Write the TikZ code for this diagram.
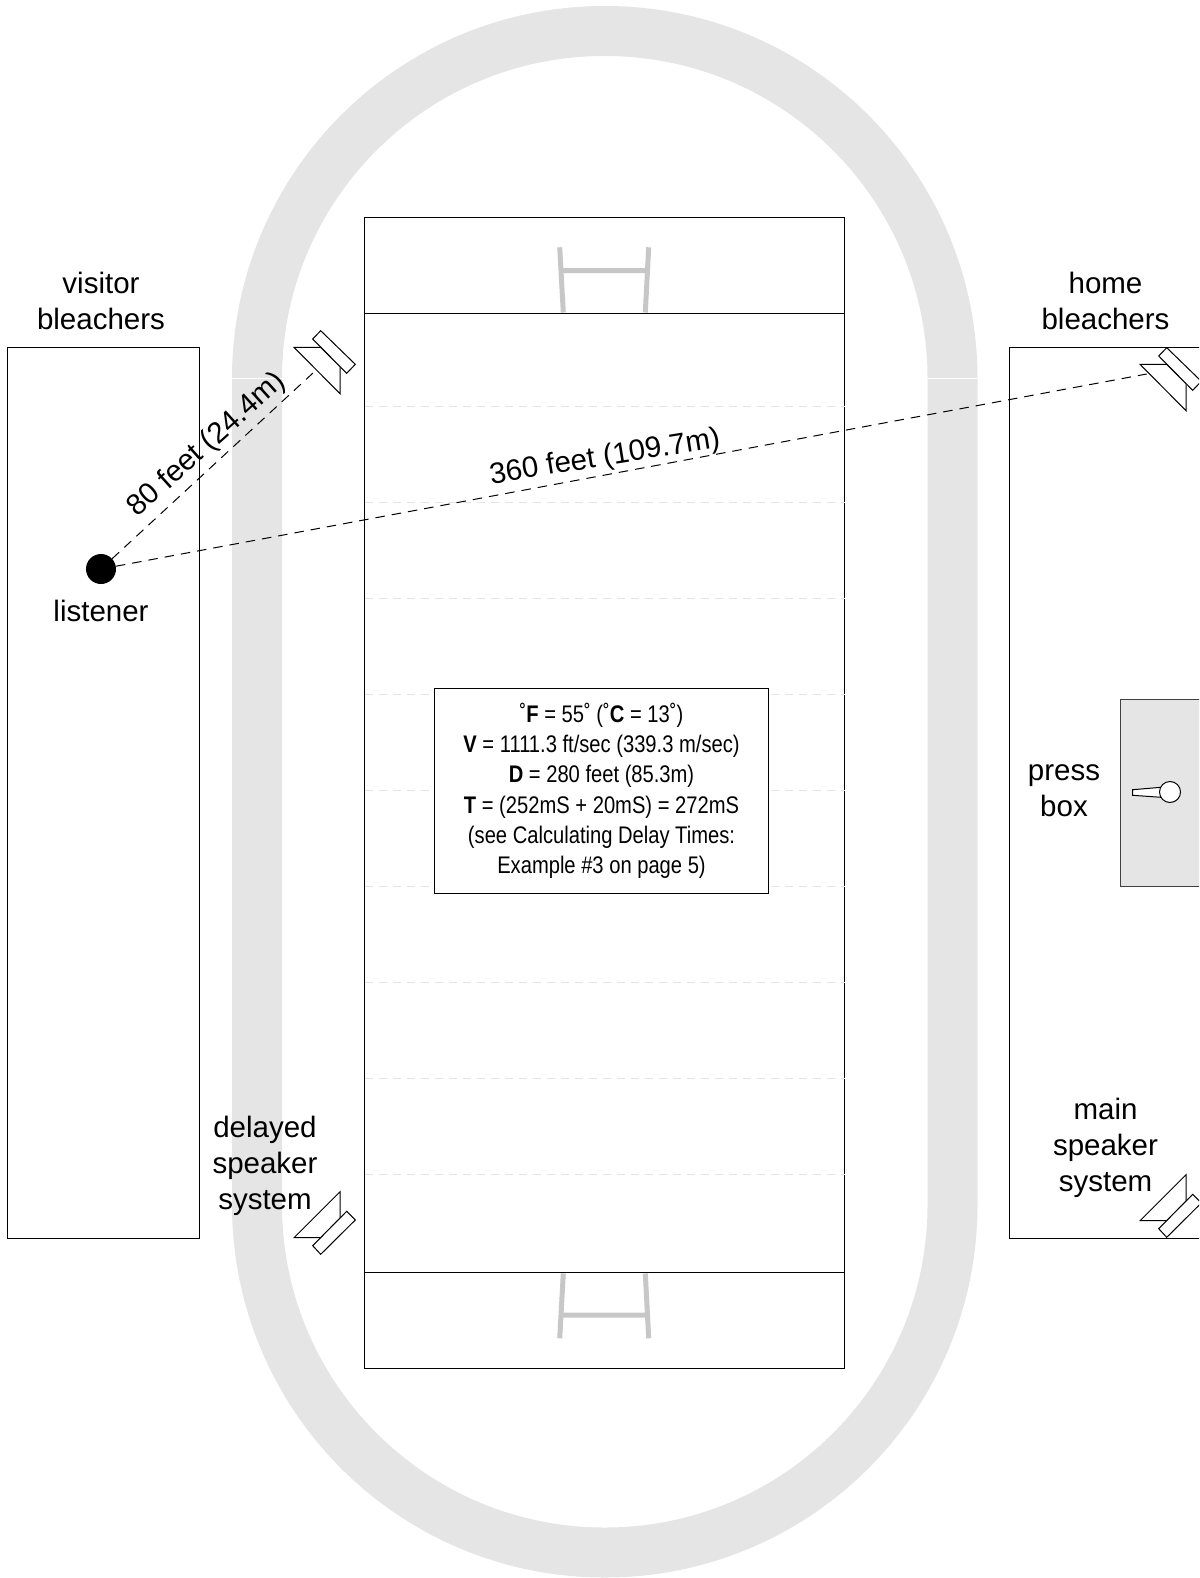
\documentclass[tikz,border=0pt]{standalone}
\usepackage{fontspec}
\setmainfont{Liberation Sans}
\newfontfamily\narrowf[FakeStretch=0.84]{Liberation Sans}
\tikzset{
  outline/.style={draw=black,line width=1pt},
  yardline/.style={draw=black!11,line width=1pt,dash pattern=on 8pt off 6pt},
  goalpost/.style={draw=black!22,line width=5pt},
  spk/.style={draw=black,line width=1pt,fill=white,line join=miter},
  sightline/.style={draw=black,line width=1pt,dash pattern=on 9.5pt off 7pt},
  lbl/.style={font=\fontsize{29.5}{36.3}\selectfont,align=center,inner sep=0pt,text=black},
}
\begin{document}
\begin{tikzpicture}[x=1pt,y=-1pt]
\useasboundingbox (0,0) rectangle (1199,1578);
\clip (0,0) rectangle (1199,1578);
% track
\draw[draw=black!10,line width=50pt,rounded corners=347.5pt] (257,31) rectangle (952.5,1552.5);
\draw[white,line width=.6pt] (232,378) -- (282,378) (928,378) -- (977,378);
% field
\draw[outline,fill=white] (364.7,217.5) rectangle (844.7,1368.5);
\draw[outline] (364.7,313.5) -- (844.7,313.5);
\draw[outline] (364.7,1272.8) -- (844.7,1272.8);
\foreach \yy in {406.7,502.7,598.6,694.6,790.5,886.5,982.4,1078.4,1174.3}
  \draw[yardline] (364.7,\yy) -- (844.7,\yy);
% goals
\draw[goalpost] (559.7,247.3) -- (563.3,312.5) (648.7,247.3) -- (645.3,312.5) (563,270.7) -- (645.6,270.7);
\draw[goalpost] (559.7,1338.3) -- (563.3,1273.5) (648.7,1338.3) -- (645.3,1273.5) (563,1315) -- (645.6,1315);
% bleachers
\draw[outline] (7.5,347.5) rectangle (199.5,1238.5);
\draw[outline] (1199.5,347.5) -- (1009.5,347.5) -- (1009.5,1238.3) -- (1199.5,1238.3);
% press box
\fill[black!10] (1120.7,699.3) rectangle (1199.5,886);
\draw[outline,draw=black!75] (1199.5,699.3) -- (1120.7,699.3) -- (1120.7,886) -- (1199.5,886);
\draw[spk] (1132.7,789.7) -- (1161,787.3) -- (1161,797.3) -- (1132.7,795.3) -- cycle;
\node[spk,circle,minimum size=21pt,inner sep=0pt] (mic) at (1170,792) {};
% listener and sight lines
\node[circle,fill=black,minimum size=30pt,inner sep=0pt] (listener) at (101,569) {};
\coordinate (delayend) at (313.3,372.7);
\coordinate (mainend) at (1146.7,374);
\draw[sightline] (listener) -- (delayend);
\draw[sightline] (listener) -- (mainend);
% speakers
\draw[spk] (294,347.3) -- (320.7,347.3) -- (340,366.7) -- (340,393.7) -- cycle;
\draw[spk] (320.7,330.7) -- (355.3,364.3) -- (346.7,373.3) -- (312.7,339) -- cycle;
\draw[spk] (294,1237.7) -- (320.7,1237.7) -- (340,1218.3) -- (340,1191.7) -- cycle;
\draw[spk] (320.7,1254.3) -- (355.3,1220) -- (346.7,1211.3) -- (312.7,1245.7) -- cycle;
\draw[spk] (1140,364.3) -- (1166.7,364.3) -- (1186,383.7) -- (1186,410.7) -- cycle;
\draw[spk] (1166.7,347.7) -- (1201.3,381.3) -- (1192.7,390.3) -- (1158.7,356) -- cycle;
\draw[spk] (1140,1220.7) -- (1166.7,1220.7) -- (1186,1201.3) -- (1186,1174.7) -- cycle;
\draw[spk] (1166.7,1237.3) -- (1201.3,1203) -- (1192.7,1194.3) -- (1158.7,1228.7) -- cycle;
% info box
\node[outline,fill=white,minimum width=334.7pt,minimum height=204.7pt,inner sep=0pt,align=center,
      font=\narrowf\fontsize{24}{30.3}\selectfont,text=black] (info) at (601.5,790.7)
 {˚\textbf{F} = 55˚ (˚\textbf{C} = 13˚)\\
  \textbf{V} = 1111.3 ft/sec (339.3 m/sec)\\
  \textbf{D} = 280 feet (85.3m)\\
  \textbf{T} = (252mS + 20mS) = 272mS\\
  (see Calculating Delay Times:\\
  Example \#3 on page 5)};
% labels
\node[lbl] (visitor) at (101,301) {visitor\\bleachers};
\node[lbl] (home) at (1105.5,301) {home\\bleachers};
\node[lbl] (listenerlabel) at (101,611) {listener};
\node[lbl] (press) at (1064,791) {press\\box};
\node[lbl] (delayed) at (265,1166) {delayed\\speaker\\system};
\node[lbl] (mainsys) at (1105.5,1148) {main\\speaker\\system};
\node[lbl,rotate=42] (d80) at (207,445) {80 feet (24.4m)};
\node[lbl,rotate=9.2] (d360) at (605,458) {360 feet (109.7m)};
\end{tikzpicture}
\end{document}
